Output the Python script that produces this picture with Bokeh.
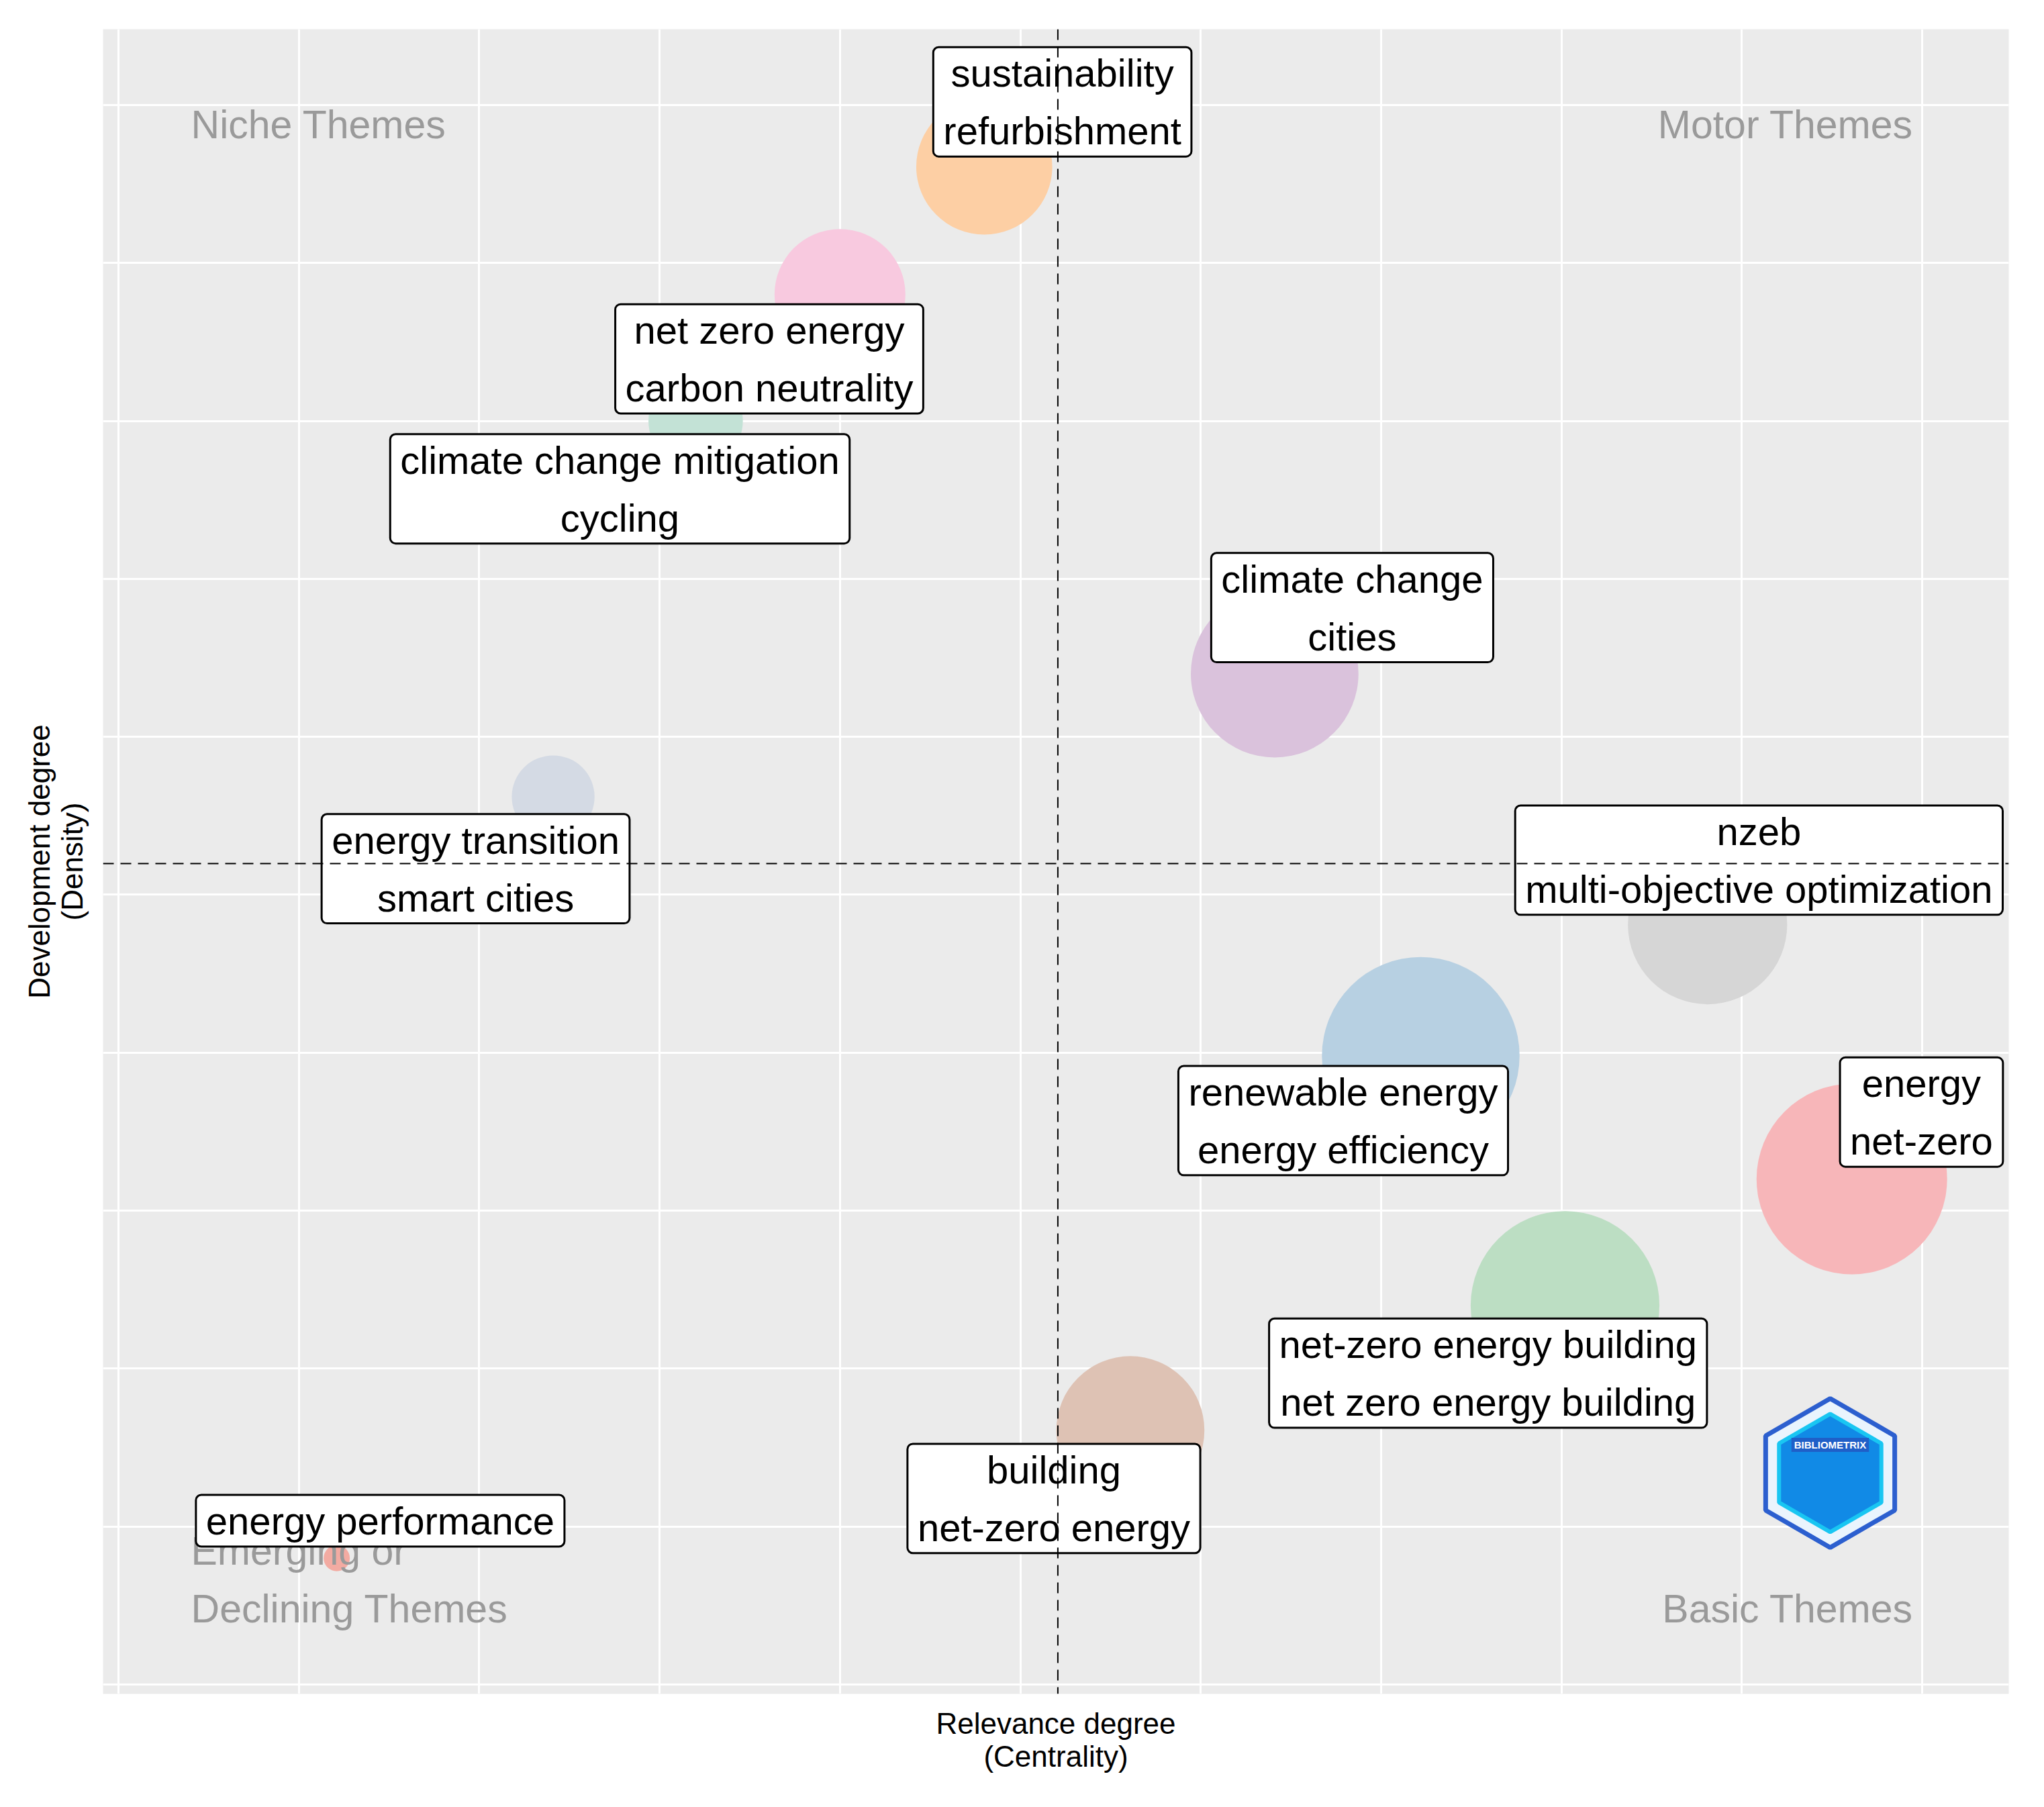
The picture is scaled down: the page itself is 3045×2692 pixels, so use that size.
import numpy as np
from bokeh.plotting import figure
from bokeh.models import Range1d, FixedTicker, Span, ColumnDataSource
from bokeh.core.properties import value
from bokeh.embed import file_html
from bokeh.resources import INLINE

# ---------------- data ----------------
themes = [
    "sustainability\nrefurbishment",
    "net zero energy\ncarbon neutrality",
    "climate change mitigation\ncycling",
    "climate change\ncities",
    "energy transition\nsmart cities",
    "nzeb\nmulti-objective optimization",
    "renewable energy\nenergy efficiency",
    "energy\nnet-zero",
    "net-zero energy building\nnet zero energy building",
    "building\nnet-zero energy",
    "energy performance",
]
centrality = [4.80, 4.00, 3.20, 6.41, 2.41, 8.81, 7.22, 9.61, 8.02, 5.61, 1.21]
density = [9.61, 8.80, 8.00, 6.40, 5.62, 4.81, 3.98, 3.20, 2.40, 1.61, 0.80]
freq = [27, 25, 13, 41, 10, 37, 57, 53, 52, 32, 1]
colors = ["#FDCFA4", "#F8C9DF", "#C3E2D6", "#DAC2DC", "#D4DAE4", "#D6D6D6",
          "#B7D0E2", "#F7B6B9", "#BCDEC3", "#DEC2B4", "#F3ABA2"]

# label (repelled) positions, in data units
label_x = [5.233, 3.608, 2.780, 6.840, 1.980, 9.095, 6.790, 9.996, 7.593, 5.186, 1.451]
label_y = [10.02, 8.393, 7.570, 6.818, 5.165, 5.219, 3.570, 3.624, 1.971, 1.178, 1.037]

centrality_mid = 5.208
density_mid = 5.198

quad_text = ["Niche Themes", "Motor Themes", "Emerging or", "Declining Themes", "Basic Themes"]
quad_x = [0.402, 9.95, 0.402, 0.402, 9.95]
quad_y = [9.876, 9.876, 0.845, 0.479, 0.479]
quad_align = ["left", "right", "left", "left", "right"]

grid_ticks = list(range(0, 11))

logo_x = [9.49]
logo_y = [1.339]

x_title = "Relevance degree\n(Centrality)"
y_title = "Development degree\n(Density)"

FONT = "Liberation Sans"

# ---------------- figure ----------------
p = figure(width=3029, height=2676, output_backend="svg", toolbar_location=None,
           x_range=Range1d(-0.0856, 10.48), y_range=Range1d(-0.0595, 10.48),
           min_border_left=153, min_border_right=37, min_border_top=43, min_border_bottom=153)
p.outline_line_color = None
p.background_fill_color = "#EBEBEB"
p.border_fill_color = "white"
p.xgrid.ticker = FixedTicker(ticks=grid_ticks)
p.ygrid.ticker = FixedTicker(ticks=grid_ticks)
p.grid.grid_line_color = "white"
p.grid.grid_line_width = 3

# axes: only their titles are shown
for ax, standoff in ((p.xaxis[0], 19), (p.yaxis[0], 22)):
    ax.ticker = FixedTicker(ticks=[])
    ax.axis_line_color = None
    ax.major_tick_line_color = None
    ax.minor_tick_line_color = None
    ax.major_tick_out = 0
    ax.major_tick_in = 0
    ax.minor_tick_out = 0
    ax.major_label_standoff = 0
    ax.axis_label_standoff = standoff
    ax.axis_label_text_font = FONT
    ax.axis_label_text_font_size = "44px"
    ax.axis_label_text_font_style = "normal"
    ax.axis_label_text_color = "black"
    ax.axis_label_text_line_height = 1.0
p.xaxis[0].axis_label = x_title
p.yaxis[0].axis_label = y_title

# bubbles
sizes = [39.0 * np.sqrt(f) for f in freq]
src = ColumnDataSource(dict(x=centrality, y=density, size=sizes, color=colors, label=themes,
                            lx=label_x, ly=label_y))
p.scatter("x", "y", size="size", fill_color="color", line_color=None, source=src)

# quadrant annotations
qsrc = ColumnDataSource(dict(x=quad_x, y=quad_y, text=quad_text, align=quad_align))
p.text("x", "y", text="text", text_align="align", text_baseline="middle",
       text_font=value(FONT), text_font_size="59px", text_color="#9A9A9A", source=qsrc)

# logo
p.scatter(logo_x, logo_y, marker="hex", size=222, angle=np.pi / 2,
          fill_color="#EAF4FD", line_color="#2C5FCF", line_width=7)
p.scatter(logo_x, logo_y, marker="hex", size=176, angle=np.pi / 2,
          fill_color="#118AE6", line_color="#19C6F2", line_width=6)
p.text(logo_x, logo_y, text=["BIBLIOMETRIX"], y_offset=-42, text_align="center",
       text_baseline="middle", text_font=value(FONT), text_font_size="15px",
       text_font_style="bold", text_color="white",
       background_fill_color="#1F5FC8", padding=(4, 2))

# labels
p.text("lx", "ly", text="label", text_align="center", text_baseline="middle",
       text_font=value(FONT), text_font_size="58px", text_color="black",
       text_line_height=1.32,
       background_fill_color="white", border_line_color="black", border_line_width=3,
       padding=(15, 6), border_radius=8, source=src)

# mean lines
p.add_layout(Span(location=centrality_mid, dimension="height", line_color="black",
                  line_dash="16 10", line_width=2))
p.add_layout(Span(location=density_mid, dimension="width", line_color="black",
                  line_dash="16 10", line_width=2))

open("out.html", "w").write(file_html(p, INLINE))
